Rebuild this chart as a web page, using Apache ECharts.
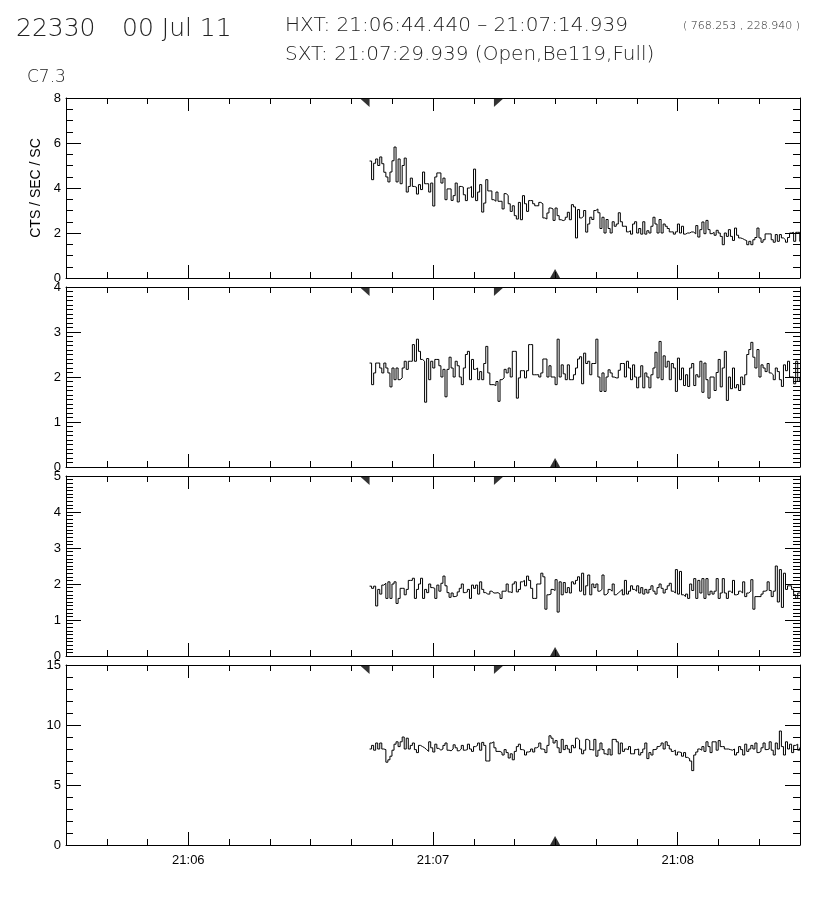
<!DOCTYPE html>
<html>
<head>
<meta charset="utf-8">
<script src="https://cdn.jsdelivr.net/npm/echarts@6/dist/echarts.min.js"></script>
<style>
  html, body { margin: 0; background: #fff; }
  #chart { width: 816px; height: 900px; }
</style>
</head>
<body>
<div id="chart"></div>
<script>
// seconds of day
function hms(h, m, s) { return h * 3600 + m * 60 + s }

var xMin = hms(21, 5, 30)
var xMax = hms(21, 8, 30)
var minuteTicks = ['21:06', '21:07', '21:08']
var hxtStart = hms(21, 6, 44.440)
var hxtEnd = hms(21, 7, 14.939)
var sxtTime = hms(21, 7, 29.939)

// 0.5 s bins, first bin at HXT start
var binStart = hms(21, 6, 44.44)
var binWidth = 0.5

// HXT L channel
var ctsLo = [
  5.2, 4.37, 5.1, 5.29, 5.0, 5.38, 5.08, 4.7, 4.49, 4.27, 4.71, 5.21, 5.82, 4.27, 5.29, 4.19, 5.0, 5.33, 3.82, 4.07,
  4.44, 4.07, 4.04, 3.73, 4.15, 3.93, 4.71, 4.19, 4.19, 3.82, 4.22, 3.2, 4.49, 4.67, 4.67, 4.22, 4.44, 3.48, 3.96, 3.96,
  3.45, 3.66, 4.22, 3.38, 4.07, 4.04, 3.7, 3.44, 4.0, 4.07, 3.59, 4.84, 3.44, 3.82,
  4.15, 2.93, 3.33, 4.37, 3.87, 3.87, 3.48, 3.41, 3.82, 3.41, 3.41, 3.07, 3.75, 3.67, 3.3, 2.96, 3.21, 2.77, 2.62, 3.36,
  2.59, 3.66, 3.3, 2.96, 3.44, 3.44, 3.3, 3.21, 3.21, 3.36, 3.3, 2.67, 2.62, 2.89, 3.11, 3.07, 2.56, 3.11, 2.77, 2.59,
  2.55, 2.59, 2.7, 2.92, 2.59, 3.26, 3.16, 1.78, 3.04, 2.67, 2.74,
  3.0, 2.04, 2.4, 2.7, 2.6, 3.0, 3.07, 2.9, 2.2, 2.7, 2.0, 2.6, 2.2, 2.0, 2.5, 2.3, 2.4, 2.9, 2.5, 2.3,
  2.3, 2.05, 2.1, 1.95, 2.4, 2.5, 2.0, 2.2, 1.95, 2.5, 1.95, 2.1, 2.0, 2.3, 2.7, 2.4, 2.0, 2.6, 2.0, 2.4,
  2.3, 2.2, 2.05, 2.05, 1.95, 2.05, 2.4, 2.0, 2.3, 1.95, 2.0, 2.0, 2.05,
  2.04, 1.96, 2.33, 1.82, 2.15, 2.49, 1.97, 2.56, 2.15, 1.97, 2.03, 1.9, 2.12, 2.0, 1.85, 1.48, 2.0, 1.85, 2.15, 1.85,
  1.67, 2.22, 1.9, 1.78, 1.75, 1.7, 1.66, 1.48, 1.63, 1.48, 1.7, 1.8, 2.22, 1.78, 1.59, 1.7, 1.96, 1.96, 1.96, 1.7,
  1.59, 1.93, 1.63, 1.93, 1.78, 1.7, 1.59, 1.8, 2.0, 2.03, 1.63, 2.03, 2.03, 1.63, 2.0
]

// HXT M1 channel
var ctsM1 = [
  2.31, 1.83, 2.09, 2.31, 2.31, 2.2, 2.09, 2.31, 2.2, 2.09,
  1.78, 2.2, 1.94, 2.2, 1.94, 1.98, 2.2, 2.35, 2.17, 2.35,
  2.35, 2.72, 2.35, 2.84, 2.57, 2.39, 2.35, 1.44, 2.41, 1.94,
  2.35, 2.2, 2.39, 2.39, 2.25, 2.0, 2.17, 1.56, 2.17, 2.44,
  2.2, 2.0, 2.35, 2.25, 2.0, 1.83, 2.2, 2.5, 2.57, 1.94,
  2.39, 2.17, 2.2, 1.94, 2.12, 1.94, 2.3, 2.68, 2.09, 1.83,
  1.83, 1.81, 1.9, 1.46, 1.94, 1.98, 2.17, 2.09, 2.2, 2.0,
  2.57, 2.57, 1.53, 1.98, 2.14, 2.14, 1.98, 2.14, 2.72, 2.72,
  2.05, 2.05, 2.05, 2.0, 2.09, 2.4, 2.4, 2.0, 2.25, 2.0,
  2.0, 1.83, 2.84, 2.0, 2.27, 2.07, 1.94, 2.27, 1.94, 1.94,
  2.05, 2.2, 2.4, 2.45, 1.85, 2.53, 2.3, 2.35, 2.05, 2.3,
  2.3, 2.84, 2.0, 1.68, 2.09, 1.68, 2.0, 2.16, 2.09, 2.0,
  1.98, 1.98, 2.15, 2.3, 2.3, 2.0, 2.35, 2.2, 1.94, 2.27,
  2.0, 1.76, 2.0, 2.25, 1.76, 2.09, 2.0, 1.76, 2.05, 2.2,
  2.55, 1.98, 2.79, 1.94, 2.47, 2.22, 2.35, 1.94, 2.3, 2.2,
  1.68, 2.42, 1.94, 2.2, 1.81, 2.05, 1.79, 2.2, 2.3, 1.81,
  2.05, 2.0, 2.35, 1.66, 2.31, 1.94, 1.53, 2.0, 2.0, 1.7,
  2.1, 2.39, 1.78, 2.2, 2.57, 1.48, 2.0, 1.74, 2.2, 1.76,
  1.83, 1.7, 2.0, 1.83, 2.05, 2.5, 2.61, 2.77, 2.44, 2.2,
  2.61, 2.0, 2.27, 2.2, 2.12, 2.3, 2.09, 2.05, 1.94, 2.2,
  2.12, 1.94, 1.79, 2.27, 2.14, 2.35, 2.0, 2.0, 1.85, 2.35, 1.9, 2.0, 1.85
]

// HXT M2 channel
var ctsM2 = [
  1.94, 1.88, 1.94, 1.39, 1.85, 1.72, 1.97, 2.02, 1.6, 2.06,
  1.6, 2.0, 2.06, 1.46, 1.6, 1.88, 1.88, 1.7, 1.85, 2.1,
  2.1, 2.16, 1.6, 1.85, 2.0, 2.16, 1.6, 1.85, 1.76, 2.0,
  1.9, 1.88, 1.6, 1.97, 1.8, 2.02, 2.22, 1.95, 1.76, 1.63,
  1.75, 1.65, 1.67, 1.78, 1.88, 2.0, 1.76, 1.78, 1.85, 1.6,
  1.97, 1.88, 1.97, 1.72, 2.06, 1.85, 1.76, 1.72, 1.72, 1.8,
  1.75, 1.75, 1.76, 1.72, 1.6, 1.8, 1.8, 2.0, 1.78, 1.76,
  2.0, 2.06, 1.78, 1.85, 2.06, 2.1, 1.95, 2.22, 2.1, 1.88,
  1.6, 1.6, 2.0, 2.0, 2.3, 2.2, 1.3, 1.7, 1.72, 1.85,
  1.82, 2.12, 1.22, 2.06, 1.7, 2.04, 1.76, 1.9, 1.75, 2.06,
  2.0, 2.1, 2.2, 1.8, 2.3, 1.7, 1.95, 2.25, 1.7, 2.0,
  1.9, 2.0, 1.8, 1.85, 2.25, 1.7, 1.75, 1.85, 1.8, 2.0,
  1.7, 1.75, 1.8, 1.85, 1.7, 2.1, 1.72, 1.8, 1.95, 1.85,
  1.8, 1.95, 1.75, 1.9, 1.72, 1.85, 1.75, 1.85, 1.95, 1.8,
  1.72, 1.9, 2.0, 1.88, 1.75, 1.85, 1.95, 2.02, 1.8, 1.75,
  2.4, 1.72, 2.35, 1.7, 1.65, 1.72, 1.6, 2.0, 1.82, 2.15,
  1.6, 2.1, 1.75, 2.15, 1.6, 2.15, 1.7, 1.8, 1.72, 1.8,
  2.15, 1.6, 1.75, 2.15, 1.75, 1.6, 1.8, 1.75, 2.1, 1.7,
  1.72, 1.8, 1.75, 2.06, 1.65, 1.75, 1.8, 2.12, 1.3, 1.65,
  1.65, 1.65, 1.72, 1.8, 1.82, 2.06, 1.82, 1.65, 1.8, 2.5,
  1.5, 2.4, 1.35, 2.3, 1.85, 1.95, 1.95, 1.85, 1.7, 1.6, 1.75, 1.75, 1.7
]

// HXT H channel
var ctsHi = [
  8.0, 8.3, 7.9, 8.5, 8.0, 8.5, 8.0, 7.95, 6.9, 7.1,
  7.4, 7.9, 8.4, 8.6, 8.2, 8.6, 9.0, 8.0, 8.9, 8.0,
  8.3, 8.5, 7.95, 7.7, 8.3, 8.2, 8.1, 7.95, 7.8, 8.6,
  8.1, 7.75, 8.4, 8.05, 7.9, 8.0, 8.3, 8.5, 7.9, 7.85,
  8.0, 8.35, 8.1, 7.85, 8.0, 8.3, 7.9, 7.95, 8.4, 8.0,
  7.8, 8.2, 8.3, 8.5, 7.9, 8.55, 8.3, 7.0, 7.0, 8.5,
  8.6, 8.1, 7.8, 7.8, 7.7, 7.5, 7.95, 7.7, 7.25, 7.6,
  7.1, 7.8, 8.2, 8.4, 7.95, 7.9, 7.5, 7.75, 7.8, 8.0,
  7.75, 8.1, 8.2, 8.5, 8.0, 7.95, 7.7, 8.3, 9.1, 8.9,
  8.5, 8.7, 8.1, 7.7, 8.8, 7.95, 8.3, 8.0, 7.7, 8.3,
  8.1, 8.9, 8.75, 8.0, 7.6, 7.9, 8.8, 8.7, 7.95, 7.9,
  8.8, 7.4, 7.9, 8.5, 7.95, 7.6, 7.5, 8.0, 7.5, 8.8,
  8.8, 8.6, 7.6, 8.5, 7.8, 8.0, 7.95, 8.2, 7.6, 7.6,
  7.95, 8.0, 7.5, 7.7, 8.0, 8.5, 7.2, 7.7, 7.5, 7.95,
  8.0, 8.2, 8.3, 8.5, 8.0, 8.6, 8.3, 8.0, 7.8, 7.9,
  7.5, 7.75, 7.7, 7.4, 7.7, 7.3, 7.2, 7.0, 6.2, 7.5,
  7.75, 8.0, 7.9, 8.2, 7.8, 8.6, 8.2, 7.7, 8.6, 8.6,
  7.9, 8.7, 8.2, 8.2, 8.0, 8.0, 7.95, 7.9, 8.0, 7.5,
  7.7, 8.2, 7.95, 7.5, 8.4, 7.8, 8.0, 8.3, 8.0, 8.5,
  7.7, 7.8, 8.1, 8.5, 7.95, 8.0, 8.6, 7.9, 7.5, 8.5,
  8.0, 9.5, 8.2, 7.5, 8.6, 8.0, 8.4, 7.7, 8.3, 8.4, 7.9, 8.1, 7.9
]

var panels = [
  { values: ctsLo, max: 8, interval: 2, minor: 4, name: 'CTS / SEC / SC' },
  { values: ctsM1, max: 4, interval: 1, minor: 10, name: '' },
  { values: ctsM2, max: 5, interval: 1, minor: 10, name: '' },
  { values: ctsHi, max: 15, interval: 5, minor: 5, name: '' }
]

var panelTop = [98, 287, 476, 665]
var panelHeight = 180
var labelFont = "'Liberation Sans', Arial, sans-serif"

var minuteValues = minuteTicks.map(function(s) {
  var p = s.split(':')
  return hms(+p[0], +p[1], 0)
})

function two(n) { return (n < 10 ? '0' : '') + n }

var grids = []
var xAxes = []
var yAxes = []
var series = []

panels.forEach(function(p, k) {
  var last = k === panels.length - 1
  grids.push({ left: 66, width: 734, top: panelTop[k], height: panelHeight })

  var base = {
    gridIndex: k, type: 'value', min: xMin, max: xMax,
    splitLine: { show: false }
  }
  // bottom, 10 s ticks (frame line)
  xAxes.push(Object.assign({}, base, {
    position: 'bottom', interval: 10,
    axisLine: { show: true, lineStyle: { color: '#000', width: 1 } },
    axisTick: { show: true, inside: true, length: 6, lineStyle: { color: '#000' } },
    axisLabel: { show: false }
  }))
  // bottom, minute ticks + labels
  xAxes.push(Object.assign({}, base, {
    position: 'bottom',
    axisLine: { show: false },
    axisTick: { show: true, inside: true, length: 13, customValues: minuteValues, lineStyle: { color: '#000' } },
    axisLabel: {
      show: last, customValues: minuteValues, margin: 9,
      color: '#000', fontSize: 13, fontFamily: labelFont,
      formatter: function(v) {
        return Math.floor(v / 3600) + ':' + two(Math.floor((v % 3600) / 60))
      }
    }
  }))
  // top, 10 s ticks (frame line)
  xAxes.push(Object.assign({}, base, {
    position: 'top', interval: 10,
    axisLine: { show: true, lineStyle: { color: '#000', width: 1 } },
    axisTick: { show: true, inside: true, length: 6, lineStyle: { color: '#000' } },
    axisLabel: { show: false }
  }))
  // top, minute ticks
  xAxes.push(Object.assign({}, base, {
    position: 'top',
    axisLine: { show: false },
    axisTick: { show: true, inside: true, length: 13, customValues: minuteValues, lineStyle: { color: '#000' } },
    axisLabel: { show: false }
  }))

  var ybase = {
    gridIndex: k, type: 'value', min: 0, max: p.max, interval: p.interval,
    splitLine: { show: false },
    axisLine: { show: true, lineStyle: { color: '#000', width: 1 } },
    axisTick: { show: true, inside: true, length: 15, lineStyle: { color: '#000' } },
    minorTick: { show: true, splitNumber: p.minor, length: 7, lineStyle: { color: '#000' } },
    minorSplitLine: { show: false }
  }
  yAxes.push(Object.assign({}, ybase, {
    position: 'left',
    axisLabel: { show: true, margin: 5, color: '#000', fontSize: 13, fontFamily: labelFont },
    name: p.name, nameLocation: 'middle', nameRotate: 90, nameGap: 22,
    nameTextStyle: { color: '#000', fontSize: 14, fontFamily: labelFont }
  }))
  yAxes.push(Object.assign({}, ybase, {
    position: 'right',
    axisLabel: { show: false }
  }))

  series.push({
    type: 'line',
    xAxisIndex: 4 * k, yAxisIndex: 2 * k,
    step: 'end',
    showSymbol: false,
    animation: false,
    lineStyle: { color: '#000', width: 1 },
    data: p.values.map(function(v, i) { return [binStart + i * binWidth, v] })
  })
  // HXT interval flags on the top edge, SXT time on the bottom edge
  series.push({
    type: 'scatter', xAxisIndex: 4 * k, yAxisIndex: 2 * k, clip: false, animation: false,
    symbol: 'path://M0,0 L10,0 L10,10 Z', symbolSize: [10, 9], symbolOffset: [-5, 4.5],
    itemStyle: { color: '#000' }, data: [[hxtStart, p.max]]
  })
  series.push({
    type: 'scatter', xAxisIndex: 4 * k, yAxisIndex: 2 * k, clip: false, animation: false,
    symbol: 'path://M0,0 L10,0 L0,10 Z', symbolSize: [10, 9], symbolOffset: [5, 4.5],
    itemStyle: { color: '#000' }, data: [[hxtEnd, p.max]]
  })
  series.push({
    type: 'scatter', xAxisIndex: 4 * k, yAxisIndex: 2 * k, clip: false, animation: false,
    symbol: 'triangle', symbolSize: [10, 9], symbolOffset: [0, -4.5],
    itemStyle: { color: '#000' }, data: [[sxtTime, 0]]
  })
})

var headFont = "'DejaVu Sans', sans-serif"
function head(text, left, top, size) {
  return {
    text: text, left: left, top: top,
    textStyle: { fontSize: size, fontWeight: 200, color: '#222', fontFamily: headFont }
  }
}

var chart = echarts.init(document.getElementById('chart'), null, { renderer: 'canvas' })
chart.setOption({
  backgroundColor: '#fff',
  animation: false,
  title: [
    head('22330', 11, 12, 25),
    head('00 Jul 11', 117, 12, 25),
    head('HXT: 21:06:44.440 – 21:07:14.939', 280, 11, 20),
    head('( 768.253 , 228.940 )', 678, 16, 11),
    head('SXT: 21:07:29.939 (Open,Be119,Full)', 280, 40, 20),
    head('C7.3', 22, 64, 17)
  ],
  grid: grids,
  xAxis: xAxes,
  yAxis: yAxes,
  series: series
})
</script>
</body>
</html>
